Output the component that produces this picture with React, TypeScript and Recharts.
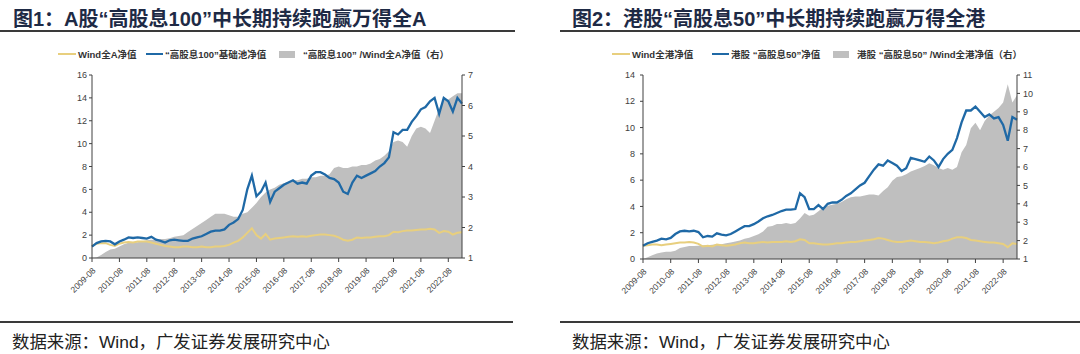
import React from 'react';
import { Area, ComposedChart, Line, XAxis, YAxis } from 'recharts';

// bimonthly observations, 2009-08 .. 2023-02
const dates: string[] = [];
for (let m = 0; m <= 162; m += 2) {
  const total = 7 + m;
  const year = 2009 + Math.floor(total / 12);
  const month = (total % 12) + 1;
  dates.push(`${year}-${String(month).padStart(2, '0')}`);
}
const yearTicks = dates.filter((d) => d.endsWith('-08'));

// 图1 A股
const windA = [
  1.05, 1.25, 1.3, 1.3, 1.15, 1.05, 1.25, 1.35, 1.4, 1.35,
  1.45, 1.45, 1.45, 1.35, 1.25, 1.15, 1.05, 1.0, 0.95, 0.95,
  1.0, 1.0, 0.95, 0.95, 1.0, 0.95, 0.95, 1.0, 1.0, 1.05,
  1.15, 1.35, 1.5, 1.8, 2.2, 2.6, 2.0, 1.7, 2.1, 1.6,
  1.7, 1.75, 1.8, 1.85, 1.9, 1.85, 1.9, 1.85, 1.95, 2.0,
  2.05, 2.05, 2.0, 1.95, 1.8, 1.6, 1.5, 1.6, 1.8, 1.75,
  1.8, 1.8, 1.85, 1.9, 1.9, 2.0, 2.3, 2.25, 2.35, 2.4,
  2.4, 2.45, 2.5, 2.5, 2.55, 2.5, 2.2, 2.35, 2.3, 2.05,
  2.2, 2.25,
];
const highDiv100 = [
  1.0, 1.3, 1.45, 1.5, 1.45, 1.2, 1.45, 1.6, 1.8, 1.75,
  1.8, 1.75, 1.7, 1.85, 1.6, 1.5, 1.35, 1.55, 1.6, 1.55,
  1.5, 1.5, 1.7, 1.8, 1.9, 2.1, 2.3, 2.4, 2.4, 2.5,
  2.9, 3.1, 3.4, 4.2, 6.0, 7.2, 5.4, 5.8, 6.6, 4.9,
  5.8, 6.1, 6.4, 6.6, 6.8, 6.5, 6.6, 6.5, 7.2, 7.5,
  7.5, 7.3, 7.0, 6.9, 6.6, 5.8, 5.6, 6.6, 7.2, 7.0,
  7.2, 7.4, 7.6, 8.0, 8.3, 8.8, 11.0, 10.8, 11.2, 11.2,
  11.9, 12.4, 13.0, 13.2, 13.7, 14.0, 12.6, 14.0, 13.7, 12.8,
  14.0, 13.5,
];
const ratioA = [
  1.0, 1.02, 1.1, 1.2, 1.28, 1.3, 1.38, 1.45, 1.5, 1.52,
  1.52, 1.55, 1.58, 1.6, 1.6, 1.62, 1.62, 1.65, 1.7, 1.72,
  1.75, 1.85, 1.95, 2.05, 2.15, 2.25, 2.35, 2.45, 2.45, 2.45,
  2.4, 2.35, 2.35, 2.45, 2.5, 2.65, 2.8, 3.0, 3.15, 3.25,
  3.3, 3.4, 3.45, 3.5, 3.55, 3.55, 3.6, 3.6, 3.65, 3.65,
  3.7, 3.7, 3.75, 3.95, 4.0, 3.95, 3.95, 4.0, 4.0, 4.05,
  4.05, 4.1, 4.2, 4.25, 4.35, 4.5, 4.8, 4.85, 4.8, 4.65,
  5.0, 5.25, 5.3, 5.25, 5.1, 5.5, 5.9, 6.2, 6.2, 6.3,
  6.4, 6.4,
];

// 图2 港股
const windHK = [
  1.0, 1.05, 1.1, 1.1, 1.05, 1.1, 1.15, 1.2, 1.25, 1.25,
  1.3, 1.25, 1.15, 0.95, 1.0, 0.95, 1.1, 1.05, 1.0, 1.05,
  1.1, 1.2, 1.25, 1.2, 1.2, 1.25, 1.3, 1.25, 1.3, 1.3,
  1.3, 1.35, 1.3, 1.35, 1.5, 1.45, 1.2, 1.2, 1.15, 1.1,
  1.1, 1.15, 1.2, 1.2, 1.25, 1.3, 1.3, 1.35, 1.4, 1.45,
  1.5, 1.6, 1.55, 1.45, 1.35, 1.3, 1.3, 1.35, 1.4, 1.35,
  1.3, 1.3, 1.25, 1.2, 1.25, 1.35, 1.4, 1.55, 1.65, 1.65,
  1.6, 1.45, 1.4, 1.35, 1.3, 1.25, 1.25, 1.2, 1.15, 0.9,
  1.2, 1.15,
];
const highDiv50 = [
  1.0, 1.2, 1.3, 1.4, 1.55, 1.5, 1.6, 1.9, 2.1, 2.15,
  2.1, 2.15, 2.05, 1.65, 1.75, 1.7, 1.95, 1.85, 1.8, 1.9,
  2.1, 2.3, 2.5, 2.5, 2.65, 2.85, 3.1, 3.25, 3.35, 3.5,
  3.65, 3.75, 3.75, 3.8, 5.0, 4.7, 3.8, 3.8, 4.1, 3.8,
  4.2, 4.3, 4.3, 4.5, 4.8, 5.0, 5.3, 5.6, 5.8, 6.3,
  6.8, 7.2, 7.1, 7.5, 7.3, 7.1, 6.7, 6.9, 7.7, 7.6,
  7.5, 7.4, 7.8, 7.5, 7.0, 7.6, 8.0, 8.3, 9.2, 10.4,
  11.3, 11.3, 11.6, 11.2, 10.8, 11.0, 10.7, 10.8, 10.2, 9.0,
  10.8, 10.6,
];
const ratioHK = [
  1.0, 1.1, 1.2, 1.3, 1.35, 1.4, 1.4, 1.45, 1.6, 1.65,
  1.7, 1.7, 1.72, 1.75, 1.75, 1.78, 1.8, 1.8, 1.85, 1.9,
  1.95, 2.0, 2.1, 2.15, 2.25, 2.35, 2.5, 2.75, 2.8, 2.9,
  2.9, 2.95, 2.9, 2.95, 3.2, 3.5, 3.35, 3.4, 3.6, 3.8,
  3.9, 3.95, 4.0, 4.1, 4.25, 4.35, 4.4, 4.4, 4.45, 4.5,
  4.5, 4.45, 4.7, 4.9, 5.25, 5.45, 5.5, 5.6, 5.75, 5.85,
  5.95, 6.05, 6.2, 6.1, 5.95, 5.85, 5.95, 5.85, 6.0, 6.8,
  7.2, 8.1, 8.4, 8.0, 8.5, 8.8, 9.0, 9.2, 9.5, 10.5,
  9.5, 9.9,
];

const leftTicksA = [0, 2, 4, 6, 8, 10, 12, 14, 16];
const rightTicksA = [1, 2, 3, 4, 5, 6, 7];
const leftTicksHK = [0, 2, 4, 6, 8, 10, 12, 14];
const rightTicksHK = [1, 2, 3, 4, 5, 6, 7, 8, 9, 10, 11];

const legendA = ['Wind全A净值', '“高股息100”基础池净值', '“高股息100” /Wind全A净值（右）'];
const legendHK = ['Wind全港净值', '港股 “高股息50”净值', '港股 “高股息50” /Wind全港净值（右）'];

const BLUE = '#1f69a6';
const GOLD = '#e8cf7e';
const GREY = '#bfbfbf';
const AXIS = '#404040';
const FONT = '"Liberation Sans", Arial, "Noto Sans CJK SC", sans-serif';

const buildRows = (index: number[], fund: number[], ratio: number[]) =>
  dates.map((date, i) => ({ date, index: index[i], fund: fund[i], ratio: ratio[i] }));

const DateTick = ({ x, y, payload }: any) => (
  <g transform={`translate(${x + 2},${y + 5}) rotate(-45)`}>
    <text textAnchor='end' dy={3} fontSize={8.5} fill={AXIS} fontFamily={FONT}>
      {payload.value}
    </text>
  </g>
);

type LegendProps = { labels: string[]; xs: number[] };

function LegendRow({ labels, xs }: LegendProps) {
  const swatch = [
    <div style={{ width: 18, height: 2, background: GOLD }} />,
    <div style={{ width: 17, height: 2.5, background: BLUE }} />,
    <div style={{ width: 16, height: 7, background: GREY, marginRight: 6 }} />,
  ];
  return (
    <>
      {labels.map((label, i) => (
        <div
          key={label}
          style={{
            position: 'absolute',
            left: xs[i],
            top: 47,
            height: 14,
            display: 'flex',
            alignItems: 'center',
            gap: 2,
            fontSize: 9.5,
            fontWeight: 'bold',
            color: '#333',
            fontFamily: FONT,
            whiteSpace: 'nowrap',
          }}
        >
          {swatch[i]}
          <span>{label}</span>
        </div>
      ))}
    </>
  );
}

type PanelProps = {
  left: number;
  width: number;
  margin: { top: number; right: number; bottom: number; left: number };
  rows: ReturnType<typeof buildRows>;
  leftTicks: number[];
  rightTicks: number[];
  labelGap: number;
};

function Panel({ left, width, margin, rows, leftTicks, rightTicks, labelGap }: PanelProps) {
  const tickStyle = { fontSize: 9, fill: AXIS, fontFamily: FONT };
  return (
    <div style={{ position: 'absolute', left, top: 40 }}>
      <ComposedChart width={width} height={270} data={rows} margin={margin}>
        <XAxis
          dataKey='date'
          scale='point'
          ticks={yearTicks}
          interval={0}
          height={45}
          tick={<DateTick />}
          tickSize={4}
          stroke={AXIS}
        />
        <YAxis
          yAxisId='left'
          width={30}
          domain={[leftTicks[0], leftTicks[leftTicks.length - 1]]}
          ticks={leftTicks}
          interval={0}
          tickSize={3}
          tickMargin={labelGap}
          tick={tickStyle}
          stroke={AXIS}
        />
        <YAxis
          yAxisId='right'
          orientation='right'
          width={25}
          domain={[rightTicks[0], rightTicks[rightTicks.length - 1]]}
          ticks={rightTicks}
          interval={0}
          tickSize={3}
          tickMargin={3}
          tick={tickStyle}
          stroke={AXIS}
        />
        <Area
          yAxisId='right'
          dataKey='ratio'
          type='linear'
          fill={GREY}
          fillOpacity={1}
          stroke='none'
          isAnimationActive={false}
        />
        <Line
          yAxisId='left'
          dataKey='index'
          type='linear'
          stroke={GOLD}
          strokeWidth={2}
          dot={false}
          isAnimationActive={false}
        />
        <Line
          yAxisId='left'
          dataKey='fund'
          type='linear'
          stroke={BLUE}
          strokeWidth={2.3}
          dot={false}
          isAnimationActive={false}
        />
      </ComposedChart>
    </div>
  );
}

const titleStyle: React.CSSProperties = {
  position: 'absolute',
  top: 3,
  fontSize: 20,
  fontWeight: 'bold',
  color: '#1e2a45',
  fontFamily: FONT,
  whiteSpace: 'nowrap',
};
const sourceStyle: React.CSSProperties = {
  position: 'absolute',
  top: 328,
  fontSize: 17.4,
  color: '#222',
  fontFamily: FONT,
  whiteSpace: 'nowrap',
};
const rule = (left: number, width: number, top: number): React.CSSProperties => ({
  position: 'absolute',
  left,
  width,
  top,
  height: 1.5,
  background: '#3a3a3a',
});

export default function App() {
  return (
    <div
      style={{
        position: 'absolute',
        left: 0,
        top: 0,
        width: 1080,
        height: 354,
        background: '#fff',
        overflow: 'hidden',
      }}
    >
      <div style={{ ...titleStyle, left: 13 }}>图1：A股“高股息100”中长期持续跑赢万得全A</div>
      <div style={{ ...titleStyle, left: 572 }}>图2：港股“高股息50”中长期持续跑赢万得全港</div>
      <div style={rule(0, 515, 30)} />
      <div style={rule(560, 520, 30)} />

      <LegendRow labels={legendA} xs={[58, 146, 279]} />
      <LegendRow labels={legendHK} xs={[612, 712, 833]} />

      <Panel
        left={0}
        width={520}
        margin={{ top: 35, right: 33, bottom: 7, left: 62 }}
        rows={buildRows(windA, highDiv100, ratioA)}
        leftTicks={leftTicksA}
        rightTicks={rightTicksA}
        labelGap={2}
      />
      <Panel
        left={540}
        width={540}
        margin={{ top: 35, right: 38, bottom: 6, left: 73 }}
        rows={buildRows(windHK, highDiv50, ratioHK)}
        leftTicks={leftTicksHK}
        rightTicks={rightTicksHK}
        labelGap={5}
      />

      <div style={rule(0, 513, 321)} />
      <div style={rule(560, 520, 321)} />
      <div style={{ ...sourceStyle, left: 12 }}>数据来源：Wind，广发证券发展研究中心</div>
      <div style={{ ...sourceStyle, left: 572 }}>数据来源：Wind，广发证券发展研究中心</div>
    </div>
  );
}
